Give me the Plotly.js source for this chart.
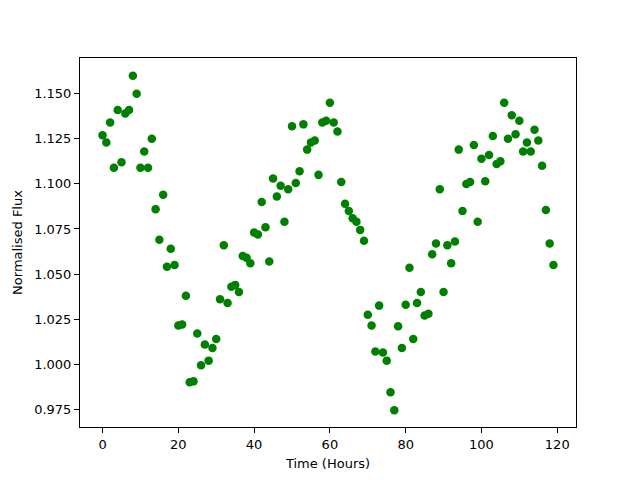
<!DOCTYPE html>
<html>
<head>
<meta charset="utf-8">
<script src="https://cdn.plot.ly/plotly-3.0.1.min.js"></script>
<style>html,body{margin:0;padding:0;background:#fff;}#chart{width:640px;height:480px;}</style>
</head>
<body>
<div id="chart"></div>
<script>
const timeHours = [];
for (let i = 0; i < 120; i++) timeHours.push(i);

const normalisedFlux = [
  1.127, 1.123, 1.134, 1.109, 1.141, 1.112, 1.139, 1.141, 1.160, 1.150,
  1.109, 1.118, 1.109, 1.125, 1.086, 1.069, 1.094, 1.054, 1.064, 1.055,
  1.0215, 1.022, 1.038, 0.990, 0.9905, 1.017, 0.9995, 1.011, 1.002, 1.009,
  1.014, 1.036, 1.066, 1.034, 1.043, 1.044, 1.040, 1.060, 1.059, 1.056,
  1.073, 1.072, 1.090, 1.076, 1.057, 1.103, 1.093, 1.099, 1.079, 1.097,
  1.132, 1.1005, 1.107, 1.133, 1.119, 1.123, 1.124, 1.105, 1.134, 1.135,
  1.145, 1.134, 1.129, 1.101, 1.089, 1.085, 1.081, 1.079, 1.0745, 1.0685,
  1.0275, 1.0215, 1.007, 1.0325, 1.0065, 1.002, 0.9845, 0.9745, 1.021, 1.009,
  1.033, 1.0535, 1.014, 1.034, 1.040, 1.027, 1.028, 1.061, 1.067, 1.097,
  1.040, 1.066, 1.056, 1.068, 1.119, 1.085, 1.100, 1.101, 1.1215, 1.079,
  1.114, 1.1015, 1.116, 1.1265, 1.111, 1.1125, 1.145, 1.125, 1.138, 1.1275,
  1.135, 1.118, 1.123, 1.118, 1.130, 1.124, 1.110, 1.0855, 1.067, 1.055
];

const xTickVals = [0, 20, 40, 60, 80, 100, 120];
const yTickVals = [0.975, 1.000, 1.025, 1.050, 1.075, 1.100, 1.125, 1.150];

const font = {family: 'DejaVu Sans, sans-serif', size: 13, color: '#000'};

const trace = {
  x: timeHours,
  y: normalisedFlux,
  type: 'scatter',
  mode: 'markers',
  marker: {color: '#008000', size: 8.5, line: {width: 0}},
  hoverinfo: 'x+y'
};

const axisCommon = {
  showgrid: false,
  zeroline: false,
  showline: true,
  linecolor: '#000',
  linewidth: 1,
  mirror: true,
  ticks: 'outside',
  ticklen: 5,
  tickwidth: 1,
  tickcolor: '#000',
  tickfont: font
};

const layout = {
  width: 640,
  height: 480,
  paper_bgcolor: '#fff',
  plot_bgcolor: '#fff',
  margin: {l: 80, r: 64, t: 58, b: 53, pad: 0},
  showlegend: false,
  font: font,
  xaxis: Object.assign({}, axisCommon, {
    range: [-5.95, 124.95],
    tickvals: xTickVals,
    ticktext: xTickVals.map(String),
    title: {text: 'Time (Hours)', font: font, standoff: 8}
  }),
  yaxis: Object.assign({}, axisCommon, {
    range: [0.9652, 1.1698],
    tickvals: yTickVals,
    ticktext: yTickVals.map(v => v.toFixed(3)),
    title: {text: 'Normalised Flux', font: font, standoff: 8}
  })
};

Plotly.newPlot('chart', [trace], layout, {staticPlot: true, displayModeBar: false});
</script>
</body>
</html>
